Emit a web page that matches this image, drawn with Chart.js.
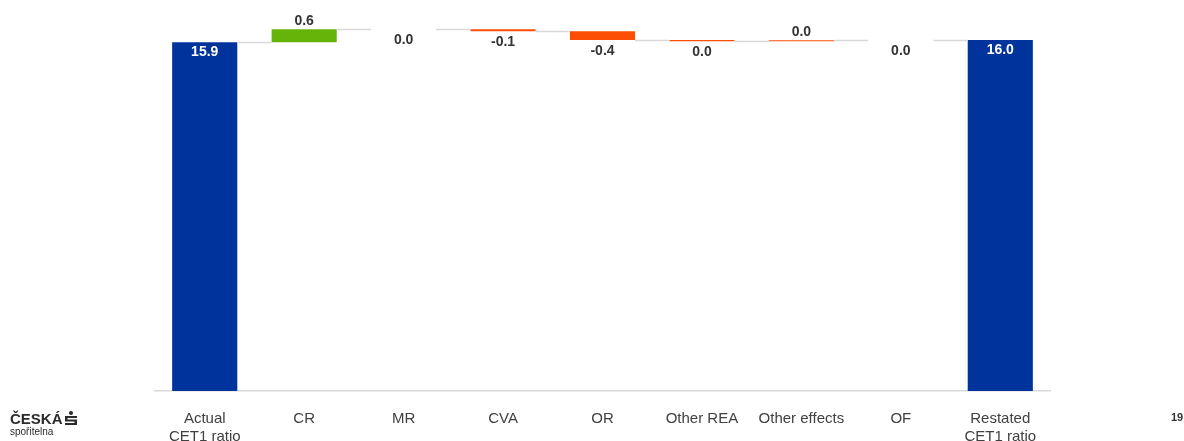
<!DOCTYPE html>
<html>
<head>
<meta charset="utf-8">
<script src="https://cdn.jsdelivr.net/npm/chart.js@4"></script>
<style>
  html, body { margin: 0; padding: 0; background: #fff; }
  #wrap { position: relative; width: 1184px; height: 441px; font-family: "Liberation Sans", Arial, sans-serif; }
  #logo { position: absolute; left: 10px; top: 410px; color: #2b2b2b; }
  #logo .big { font-weight: bold; font-size: 15px; line-height: 18px; }
  #logo .small { font-size: 10px; line-height: 10px; margin-top: -1px; }
  #logo svg { position: absolute; left: 54px; top: 1px; }
  #page { position: absolute; left: 1171px; top: 411px; font-size: 11px; font-weight: bold; color: #333; }
</style>
</head>
<body>
<div id="wrap">
  <canvas id="chart" width="1184" height="441"></canvas>
  <div id="logo">
    <div class="big">ČESKÁ</div>
    <div class="small">spořitelna</div>
    <svg width="14" height="15" viewBox="0 0 14 15">
      <circle cx="7" cy="2" r="2" fill="#2b2b2b"/>
      <path d="M1 5 H13 V7 H3.5 V8.5 H13 V14 H1 V12 H10.5 V10.5 H1 Z" fill="#2b2b2b"/>
    </svg>
  </div>
  <div id="page">19</div>
</div>
<script>
// CET1 ratio bridge: actual -> restated
const categories = [['Actual', 'CET1 ratio'], 'CR', 'MR', 'CVA', 'OR', 'Other REA', 'Other effects', 'OF', ['Restated', 'CET1 ratio']];
const changes = [15.9, 0.6, 0.0, -0.1, -0.4, -0.05, 0.04, 0.0, 16.0];
const kinds = ['total', 'gain', 'none', 'loss', 'loss', 'loss', 'loss', 'none', 'total'];
const valueLabels = ['15.9', '0.6', '0.0', '-0.1', '-0.4', '0.0', '0.0', '0.0', '16.0'];

const kindColors = { total: '#00339c', gain: '#66b30a', loss: '#fc4e05', none: '#fc4e05' };

// floating ranges from running total
let run = 0;
const ranges = changes.map((v, i) => {
  if (kinds[i] === 'total') { run = v; return [0, v]; }
  const r = [run, run + v];
  run += v;
  return r;
});

const bridge = {
  id: 'bridge',
  afterDatasetsDraw(chart) {
    const ctx = chart.ctx;
    const y = chart.scales.y;
    const bars = chart.getDatasetMeta(0).data;
    ctx.save();
    // connectors
    ctx.strokeStyle = '#d9d9d9';
    ctx.lineWidth = 1.5;
    for (let i = 0; i < bars.length - 1; i++) {
      const a = bars[i], b = bars[i + 1];
      const py = Math.round(y.getPixelForValue(ranges[i][1])) + 0.5;
      ctx.beginPath();
      ctx.moveTo(a.x + a.width / 2, py);
      ctx.lineTo(b.x - b.width / 2, py);
      ctx.stroke();
    }
    // value labels
    ctx.font = 'bold 14px "Liberation Sans", Arial, sans-serif';
    ctx.textAlign = 'center';
    ctx.textBaseline = 'middle';
    bars.forEach((bar, i) => {
      const r = ranges[i];
      let ty;
      if (kinds[i] === 'total') {
        ctx.fillStyle = '#ffffff';
        ty = y.getPixelForValue(r[1]) + 10;
      } else if (changes[i] > 0) {
        ctx.fillStyle = '#333333';
        ty = y.getPixelForValue(Math.max(r[0], r[1])) - 8;
      } else {
        ctx.fillStyle = '#333333';
        ty = y.getPixelForValue(Math.min(r[0], r[1])) + 11;
      }
      ctx.fillText(valueLabels[i], bar.x, ty);
    });
    ctx.restore();
  }
};

new Chart(document.getElementById('chart'), {
  type: 'bar',
  data: {
    labels: categories,
    datasets: [{
      data: ranges,
      backgroundColor: kinds.map(k => kindColors[k]),
      borderWidth: 0,
      barPercentage: 1,
      categoryPercentage: 0.655
    }]
  },
  options: {
    responsive: false,
    animation: false,
    layout: { padding: { left: 155, right: 134, top: 5, bottom: 0 } },
    plugins: { legend: { display: false }, tooltip: { enabled: false } },
    scales: {
      y: { display: false, min: 0, max: 17.6 },
      x: {
        grid: { display: false, drawTicks: false },
        border: { display: true, color: '#d9d9d9', width: 1.5 },
        ticks: {
          padding: 19,
          color: '#404040',
          maxRotation: 0,
          autoSkip: false,
          font: { family: '"Liberation Sans", Arial, sans-serif', size: 15, lineHeight: 1.2 }
        },
        afterFit(scale) { scale.height = 50; }
      }
    }
  },
  plugins: [bridge]
});
</script>
</body>
</html>
